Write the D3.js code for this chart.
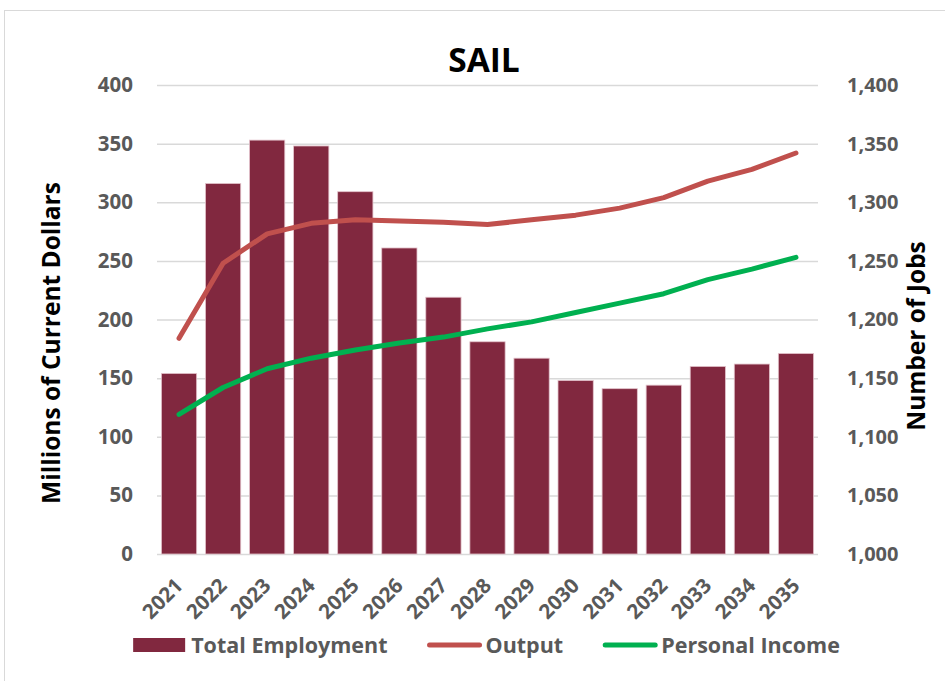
<!DOCTYPE html>
<html>
<head>
<meta charset="utf-8">
<script src="https://cdn.jsdelivr.net/npm/d3@7"></script>
<style>
  html, body { margin: 0; padding: 0; background: #fff; }
  svg { display: block; font-family: "Open Sans", "Noto Sans", sans-serif; }
</style>
</head>
<body>
<div id="chart"></div>
<script>
// data
const years = ["2021","2022","2023","2024","2025","2026","2027","2028","2029","2030","2031","2032","2033","2034","2035"];
const totalEmployment = [1154, 1316, 1353, 1348, 1309, 1261, 1219, 1181, 1167, 1148, 1141, 1144, 1160, 1162, 1171];
const output = [184, 248, 273, 282, 285, 284, 283, 281, 285, 289, 295, 304, 318, 328, 342];
const personalIncome = [119, 142, 158, 167, 174, 180, 185, 192, 198, 206, 214, 222, 234, 243, 253];
const leftTicks = [0, 50, 100, 150, 200, 250, 300, 350, 400];
const rightTicks = [1000, 1050, 1100, 1150, 1200, 1250, 1300, 1350, 1400];

const width = 945, height = 681;
const plot = { left: 157, right: 818, top: 85, bottom: 554 };

const BAR_COLOR = "#81283f";
const OUTPUT_COLOR = "#c0504d";
const INCOME_COLOR = "#00b050";
const TICK_COLOR = "#595959";

const svg = d3.select("#chart").append("svg")
  .attr("width", width)
  .attr("height", height);

// chart frame
svg.append("rect")
  .attr("x", 4.5).attr("y", 10.5)
  .attr("width", 980).attr("height", 720)
  .attr("fill", "none")
  .attr("stroke", "#d9d9d9")
  .attr("stroke-width", 1);

const x = d3.scaleBand()
  .domain(years)
  .range([plot.left, plot.right])
  .paddingInner(0.2)
  .paddingOuter(0.1);

const yLeft = d3.scaleLinear().domain([0, 400]).range([plot.bottom, plot.top]);
const yRight = d3.scaleLinear().domain([1000, 1400]).range([plot.bottom, plot.top]);

// gridlines
svg.append("g")
  .attr("transform", `translate(${plot.left},0)`)
  .call(d3.axisLeft(yLeft).tickValues(leftTicks).tickSize(-(plot.right - plot.left)).tickFormat(""))
  .call(g => g.select(".domain").remove())
  .call(g => g.selectAll("line").attr("stroke", "#d9d9d9").attr("stroke-width", 1.5));

// left axis labels
svg.append("g")
  .attr("transform", `translate(${plot.left},0)`)
  .call(d3.axisLeft(yLeft).tickValues(leftTicks).tickSize(0).tickPadding(24))
  .call(g => g.select(".domain").remove())
  .call(g => g.selectAll("text")
    .attr("fill", TICK_COLOR)
    .attr("font-size", 20.5)
    .attr("font-weight", 700)
    .attr("font-family", "'Open Sans', sans-serif"));

// right axis labels
svg.append("g")
  .attr("transform", `translate(${plot.right},0)`)
  .call(d3.axisRight(yRight).tickValues(rightTicks).tickSize(0).tickPadding(29).tickFormat(d3.format(",")))
  .call(g => g.select(".domain").remove())
  .call(g => g.selectAll("text")
    .attr("fill", TICK_COLOR)
    .attr("font-size", 20)
    .attr("font-weight", 700)
    .attr("font-family", "'Open Sans', sans-serif"));

// bars (Total Employment on the jobs axis)
svg.append("g")
  .selectAll("rect")
  .data(years.map((yr, i) => ({ yr, v: totalEmployment[i] })))
  .enter()
  .append("rect")
  .attr("x", d => x(d.yr))
  .attr("width", x.bandwidth())
  .attr("y", d => yRight(d.v))
  .attr("height", d => yRight(1000) - yRight(d.v))
  .attr("fill", BAR_COLOR)
  .attr("stroke", "#e3c3cb")
  .attr("stroke-width", 0.8);

// x axis labels, rotated like the reference
svg.append("g")
  .selectAll("text")
  .data(years)
  .enter()
  .append("text")
  .attr("transform", d => `translate(${x(d) + x.bandwidth() / 2 + 5},${plot.bottom + 33}) rotate(-45)`)
  .attr("text-anchor", "end")
  .attr("fill", TICK_COLOR)
  .attr("font-size", 20.5)
  .attr("font-weight", 700)
  .text(d => d);

// lines
const line = d3.line()
  .x((d, i) => x(years[i]) + x.bandwidth() / 2)
  .y(d => yLeft(d));

svg.append("path")
  .datum(output)
  .attr("d", line)
  .attr("fill", "none")
  .attr("stroke", OUTPUT_COLOR)
  .attr("stroke-width", 5)
  .attr("stroke-linecap", "round")
  .attr("stroke-linejoin", "round");

svg.append("path")
  .datum(personalIncome)
  .attr("d", line)
  .attr("fill", "none")
  .attr("stroke", INCOME_COLOR)
  .attr("stroke-width", 5)
  .attr("stroke-linecap", "round")
  .attr("stroke-linejoin", "round");

// title
svg.append("text")
  .attr("x", 484)
  .attr("y", 72)
  .attr("text-anchor", "middle")
  .attr("fill", "#000")
  .attr("font-size", 33.5)
  .attr("font-weight", 700)
  .text("SAIL");

// axis titles
svg.append("text")
  .attr("transform", `translate(60,343) rotate(-90)`)
  .attr("text-anchor", "middle")
  .attr("fill", "#000")
  .attr("font-size", 24.5)
  .attr("font-weight", 700)
  .text("Millions of Current Dollars");

svg.append("text")
  .attr("transform", `translate(925,336) rotate(-90)`)
  .attr("text-anchor", "middle")
  .attr("fill", "#000")
  .attr("font-size", 24.5)
  .attr("font-weight", 700)
  .text("Number of Jobs");

// legend
const legendItems = [
  { label: "Total Employment", type: "bar", color: BAR_COLOR },
  { label: "Output", type: "line", color: OUTPUT_COLOR },
  { label: "Personal Income", type: "line", color: INCOME_COLOR }
];

const legend = svg.append("g").attr("class", "legend");
const legendY = 645;
let cursor = 0;
legendItems.forEach((item, i) => {
  const g = legend.append("g").attr("transform", `translate(${cursor},0)`);
  if (item.type === "bar") {
    g.append("rect")
      .attr("x", 0).attr("y", legendY - 7)
      .attr("width", 52).attr("height", 14)
      .attr("fill", item.color);
  } else {
    g.append("line")
      .attr("x1", 2).attr("x2", 52)
      .attr("y1", legendY).attr("y2", legendY)
      .attr("stroke", item.color)
      .attr("stroke-width", 5)
      .attr("stroke-linecap", "round");
  }
  const t = g.append("text")
    .attr("x", 58)
    .attr("y", legendY + 7.5)
    .attr("fill", TICK_COLOR)
    .attr("font-size", 21.5)
    .attr("font-weight", 700)
    .text(item.label);
  cursor += 58 + t.node().getComputedTextLength() + 40;
});
const legendWidth = cursor - 40;
legend.attr("transform", `translate(${486.5 - legendWidth / 2},0)`);
</script>
</body>
</html>
